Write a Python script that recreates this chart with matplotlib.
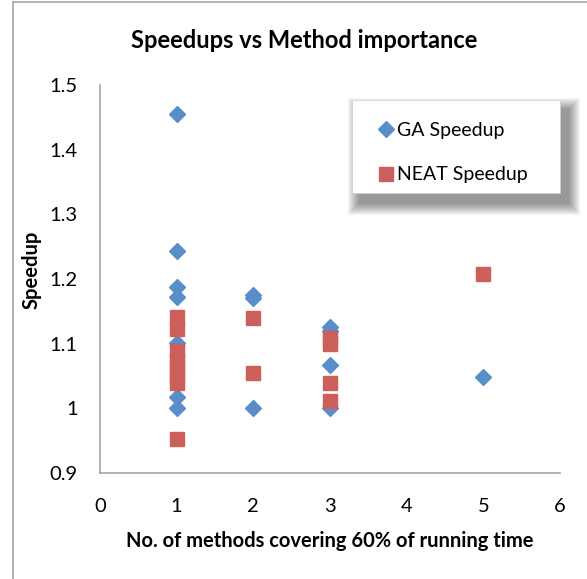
import matplotlib.pyplot as plt
from matplotlib.patches import Rectangle
from matplotlib.lines import Line2D
from matplotlib.ticker import FuncFormatter

plt.rcParams['font.family'] = ['Lato', 'DejaVu Sans']

# GA speedups per number of methods
ga_x = [1, 1, 1, 1, 1, 1, 1, 2, 2, 2, 3, 3, 3, 3, 5]
ga_y = [1.455, 1.243, 1.188, 1.172, 1.101, 1.017, 1.0,
        1.176, 1.171, 1.0, 1.126, 1.12, 1.067, 1.0, 1.048]

# NEAT speedups
neat_x = [1, 1, 1, 1, 1, 1, 1, 1, 2, 2, 3, 3, 3, 3, 5]
neat_y = [1.142, 1.123, 1.089, 1.075, 1.063, 1.05, 1.039, 0.953,
          1.14, 1.054, 1.108, 1.099, 1.039, 1.012, 1.207]

W, H = 587, 579
fig = plt.figure(figsize=(W / 100, H / 100), dpi=100)

# outer chart border
fig.add_artist(Line2D([13 / W, 13 / W], [0, 1 - 2 / H], color='#a6a6a6', lw=1.2))
fig.add_artist(Line2D([13 / W, 1], [1 - 2 / H, 1 - 2 / H], color='#a6a6a6', lw=1.2))

ax = fig.add_axes([100 / W, 1 - 473 / H, 460 / W, 388 / H])

ax.plot(ga_x, ga_y, linestyle='none', marker='D', markersize=8.2,
        color='#5a8ecb', label='GA Speedup', clip_on=False, zorder=3)
ax.plot(neat_x, neat_y, linestyle='none', marker='s', markersize=10.5,
        color='#cd5f5a', label='NEAT Speedup', clip_on=False, zorder=3)

ax.set_xlim(0, 6)
ax.set_ylim(0.9, 1.5)
ax.set_xticks(range(0, 7))
ax.set_yticks([0.9, 1.0, 1.1, 1.2, 1.3, 1.4, 1.5])
ax.yaxis.set_major_formatter(FuncFormatter(lambda v, p: '%g' % round(v, 2)))
ax.tick_params(length=0, labelsize=14.5, colors='black')
ax.tick_params(axis='y', pad=16)
ax.tick_params(axis='x', pad=18)

for s in ['top', 'right']:
    ax.spines[s].set_visible(False)
for s in ['left', 'bottom']:
    ax.spines[s].set_color('#a6a6a6')
    ax.spines[s].set_linewidth(1.2)

fig.suptitle('Speedups vs Method importance', fontsize=17, fontweight='bold',
             x=304 / W, y=1 - 40 / H, va='center')
ax.set_xlabel('No. of methods covering 60% of running time', fontsize=14.5,
              fontweight='bold')
ax.xaxis.set_label_coords(0.5, (473 - 531) / 388)
ax.set_ylabel('Speedup', fontsize=14.5, fontweight='bold')
ax.yaxis.set_label_coords((42 - 100) / 460, (473 - 270) / 388)

# legend box with soft shadow
bx, by, bw, bh = 352, 100, 208, 93
for i in range(12, 0, -1):
    fig.add_artist(Rectangle(((bx + 8 - i) / W, 1 - (by + bh + 10 + i) / H),
                             (bw + 2 * i) / W, (bh + 2 * i) / H,
                             facecolor='#000000', alpha=0.04, lw=0,
                             transform=fig.transFigure))
fig.add_artist(Rectangle((bx / W, 1 - (by + bh) / H), bw / W, bh / H,
                         facecolor='white', edgecolor='#d0d0d0', lw=0.5,
                         transform=fig.transFigure))

leg = fig.legend(loc='upper left', bbox_to_anchor=(367 / W, 1 - 112 / H),
                 frameon=False, fontsize=14, labelspacing=1.42,
                 handlelength=1.0, handletextpad=0.05, borderpad=0)
leg.set_zorder(5)

fig.savefig('out.png', dpi=100)
